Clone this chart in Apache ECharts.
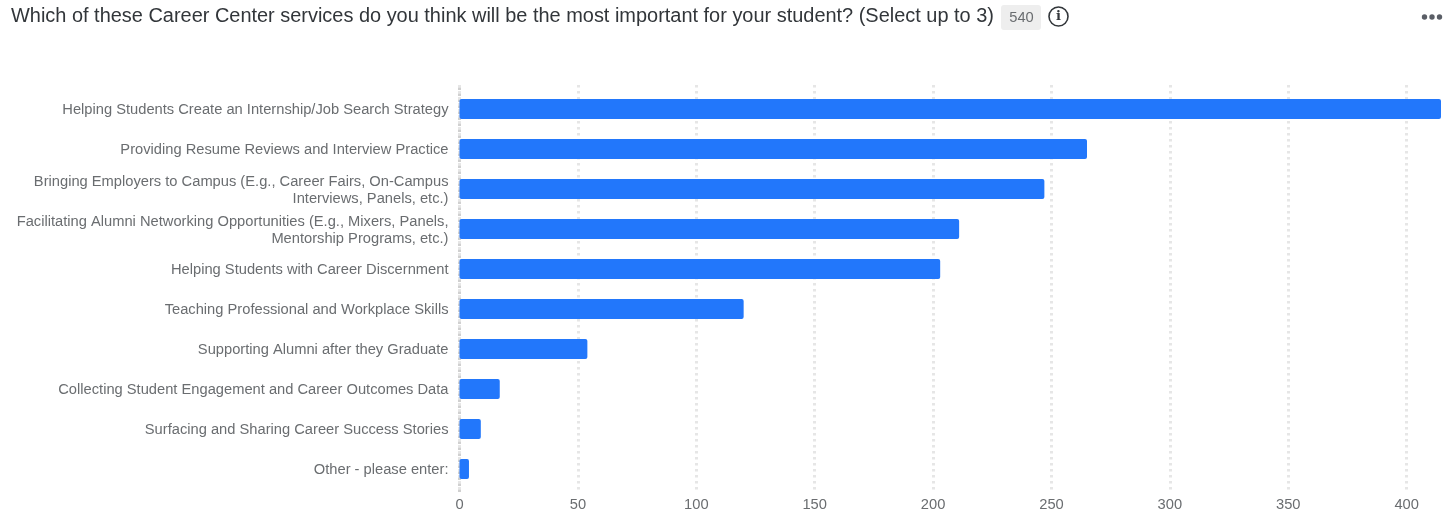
<!DOCTYPE html>
<html><head><meta charset="utf-8">
<style>html,body{margin:0;padding:0;background:#fff}#c{width:1453px;height:515px}</style>
<script src="https://cdn.jsdelivr.net/npm/echarts@6/dist/echarts.min.js"></script>
</head><body><div id="c"></div>
<script>
const titleText = "Which of these Career Center services do you think will be the most important for your student? (Select up to 3)";
const responseCount = "540";
const categories = [
 "Helping Students Create an Internship/Job Search Strategy",
 "Providing Resume Reviews and Interview Practice",
 "Bringing Employers to Campus (E.g., Career Fairs, On-Campus\nInterviews, Panels, etc.)",
 "Facilitating Alumni Networking Opportunities (E.g., Mixers, Panels,\nMentorship Programs, etc.)",
 "Helping Students with Career Discernment",
 "Teaching Professional and Workplace Skills",
 "Supporting Alumni after they Graduate",
 "Collecting Student Engagement and Career Outcomes Data",
 "Surfacing and Sharing Career Success Stories",
 "Other - please enter:"
];
const values = [415, 265, 247, 211, 203, 120, 54, 17, 9, 4];
const FONT = '"Liberation Sans",Arial,sans-serif';
const LABEL = '#6a6d70', INK = '#32363a';
const chart = echarts.init(document.getElementById('c'), null, {renderer:'canvas'});
const AXIS_MAX = 414.5;
chart.setOption({
 animation:false,
 backgroundColor:'#fff',
 grid:[
  {left:459.5,right:12,top:89,bottom:26},
  {left:459.5,right:12,top:85,bottom:23}
 ],
 xAxis:[
  {gridIndex:0,type:'value',min:0,max:AXIS_MAX,show:false},
  {gridIndex:1,type:'value',min:0,max:AXIS_MAX,interval:50,
   axisLine:{show:false},axisTick:{show:false},
   axisLabel:{color:LABEL,fontSize:14.7,fontFamily:FONT,margin:5,showMaxLabel:false},
   splitLine:{show:true,showMaxLine:false,lineStyle:{color:'#e6e6e6',type:[2.5,3.5],width:3}}}
 ],
 yAxis:[
  {gridIndex:0,type:'category',inverse:true,data:categories,
   axisLine:{show:false},axisTick:{show:false},
   axisLabel:{margin:11,align:'right',
    formatter:v=>v.split('\n').map(s=>'{a|'+s+'}').join('\n'),
    rich:{a:{color:LABEL,fontSize:14.7,fontFamily:FONT,lineHeight:17,align:'right',padding:[2,0,0,0]}}}},
  {gridIndex:1,type:'value',min:0,max:1,
   axisLine:{show:true,onZero:false,lineStyle:{color:'#d0d0d0',type:[2.5,3.5],width:3,cap:'butt'}},
   axisTick:{show:false},axisLabel:{show:false},splitLine:{show:false}}
 ],
 series:[
  {type:'bar',xAxisIndex:0,yAxisIndex:0,data:values,barWidth:20,z:5,itemStyle:{color:'#2277fb',borderRadius:2}},
  {type:'line',xAxisIndex:1,yAxisIndex:1,data:[],silent:true}
 ],
 graphic:[
  {type:'text',left:11,top:7,style:{text:titleText,fill:INK,font:'19.95px '+FONT}},
  {type:'rect',shape:{x:1001,y:5,width:40,height:25,r:3},style:{fill:'#eeeeee'}},
  {type:'text',x:1021.5,y:18,style:{text:responseCount,fill:LABEL,font:'14.7px '+FONT,align:'center',verticalAlign:'middle'}},
  {type:'circle',shape:{cx:1058.5,cy:16.5,r:9.5},style:{fill:'none',stroke:INK,lineWidth:1.6}},
  {type:'text',x:1058.5,y:17,style:{text:'i',fill:INK,font:'bold 13px "DejaVu Serif"',align:'center',verticalAlign:'middle'}},
  {type:'circle',shape:{cx:1424.5,cy:17,r:2.7},style:{fill:'#5a5e66'}},
  {type:'circle',shape:{cx:1432,cy:17,r:2.7},style:{fill:'#5a5e66'}},
  {type:'circle',shape:{cx:1439.5,cy:17,r:2.7},style:{fill:'#5a5e66'}}
 ]
});
</script></body></html>
